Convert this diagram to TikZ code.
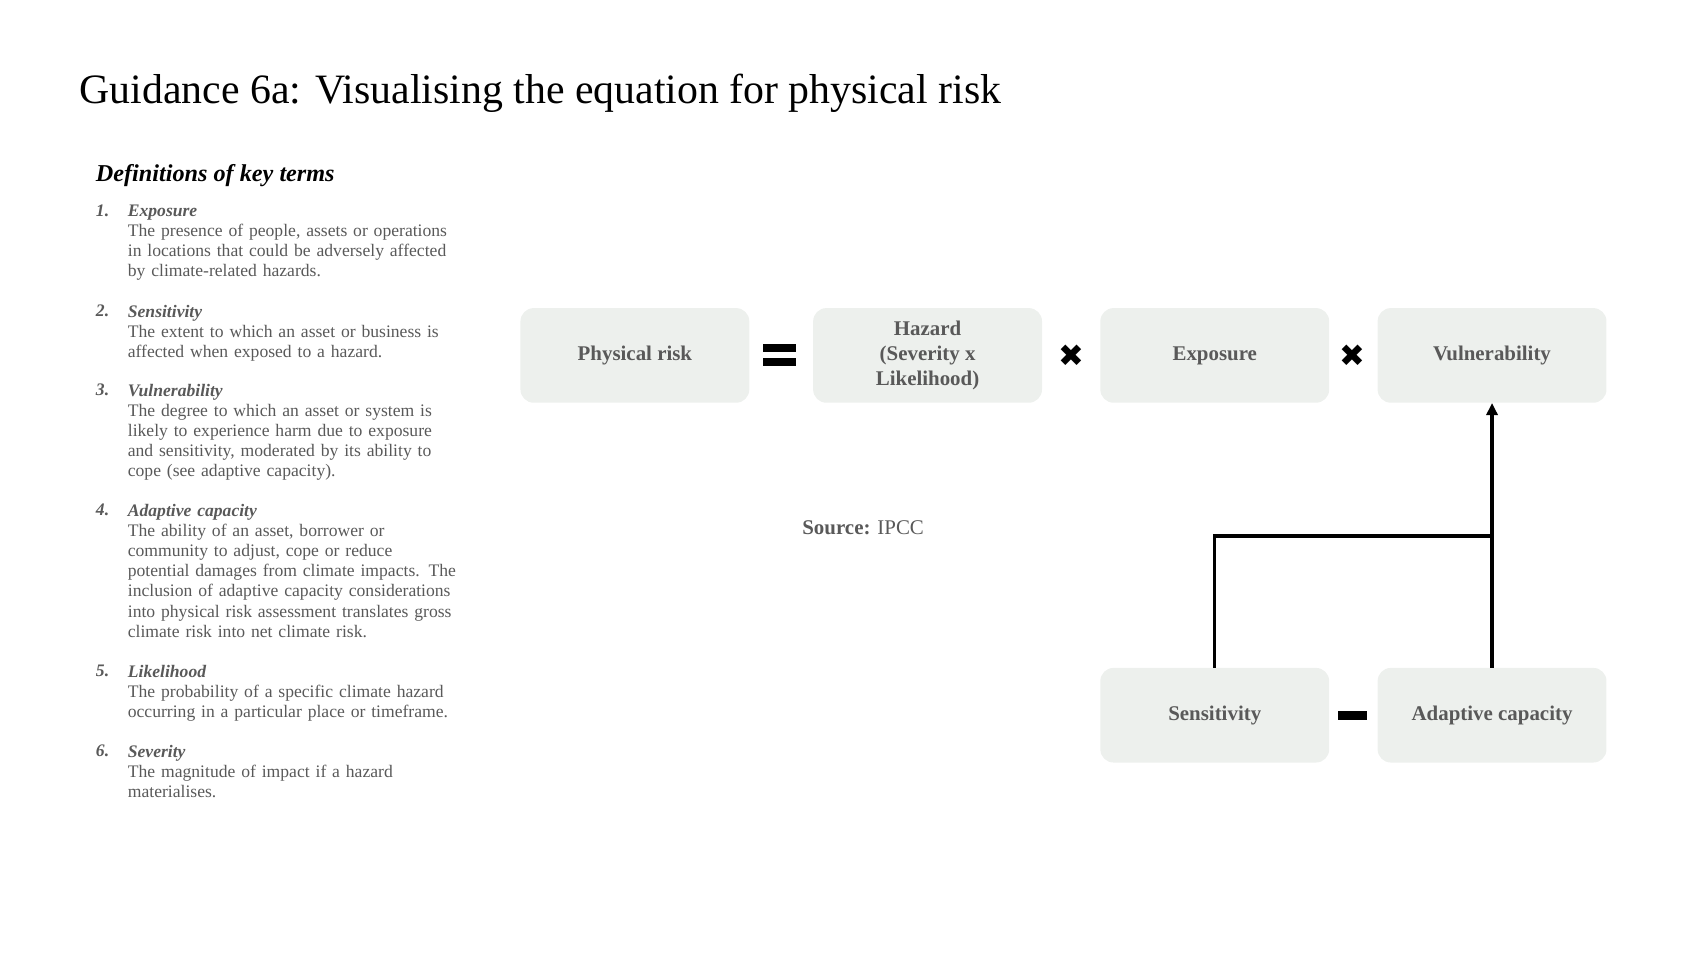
\documentclass[tikz,border=0pt]{standalone}
\usepackage{fontspec}
\setmainfont{Liberation Serif}
\newfontfamily\symf{DejaVu Sans}
\usetikzlibrary{arrows.meta}
\definecolor{boxfill}{HTML}{EDF0ED}
\definecolor{txt}{HTML}{595959}
\begin{document}
\begin{tikzpicture}[x=1pt,y=-1pt,
  box/.style={fill=boxfill,rounded corners=12pt,minimum width=208pt,minimum height=86pt,inner sep=2pt,
     align=center,text=txt,font=\fontsize{19}{23}\selectfont\bfseries},
  item/.style={anchor=north west,inner sep=0,align=left,text=txt,text width=340pt,
     font=\fontsize{16}{18.3}\selectfont},
  bar/.style={fill=black,inner sep=0,minimum width=30pt},
  conn/.style={line width=3pt}]
\useasboundingbox (0,0) rectangle (1545,870);
\node[anchor=base west,inner sep=0,font=\fontsize{38}{44}\selectfont] (title) at (72,94) {Guidance 6a: Visualising the equation for physical risk};
\node[anchor=base west,inner sep=0,font=\fontsize{22}{26}\selectfont\bfseries\itshape] (defs) at (87,165) {Definitions of key terms};
\foreach \n/\y/\h/\t in {
 1/186/Exposure/{The presence of people, assets or operations\\in locations that could be adversely affected\\by climate-related hazards.},
 2/277/Sensitivity/{The extent to which an asset or business is\\affected when exposed to a hazard.},
 3/349/Vulnerability/{The degree to which an asset or system is\\likely to experience harm due to exposure\\and sensitivity, moderated by its ability to\\cope (see adaptive capacity).},
 4/458/Adaptive capacity/{The ability of an asset, borrower or\\community to adjust, cope or reduce\\potential damages from climate impacts. The\\inclusion of adaptive capacity considerations\\into physical risk assessment translates gross\\climate risk into net climate risk.},
 5/604/Likelihood/{The probability of a specific climate hazard\\occurring in a particular place or timeframe.},
 6/677/Severity/{The magnitude of impact if a hazard\\materialises.}}{
 \node[item,text width=30pt] (num\n) at (87,\y) {\textbf{\textit{\n.}}};
 \node[item] (it\n) at (116,\y) {\textbf{\textit{\h}}\\\t};
}
\node[box] (pr) at (577,323) {Physical risk};
\node[box] (hz) at (843,323) {Hazard\\(Severity x\\Likelihood)};
\node[box] (ex) at (1104,323) {Exposure};
\node[box] (vu) at (1356,323) {Vulnerability};
\node[box] (se) at (1104,650) {Sensitivity};
\node[box] (ac) at (1356,650) {Adaptive capacity};
\node[bar,minimum height=7pt] (eq1) at (708,316) {};
\node[bar,minimum height=7pt] (eq2) at (708,329) {};
\node[inner sep=0,font=\symf\fontsize{28}{28}\selectfont] (x1) at (974,323) {✖};
\node[inner sep=0,font=\symf\fontsize{28}{28}\selectfont] (x2) at (1229,323) {✖};
\node[bar,minimum width=26pt,minimum height=8pt] (mi) at (1229,650) {};
\node[anchor=base west,inner sep=0,text=txt,font=\fontsize{19}{23}\selectfont] (src) at (729,486) {\textbf{Source:} IPCC};
\coordinate (j1) at (1104,487);
\coordinate (j2) at (1356,487);
\draw[conn] (se.north) -- (j1) -- (j2);
\draw[conn,-{Triangle[length=11pt,width=10pt]}] (ac.north) -- (vu.south);
\end{tikzpicture}
\end{document}
